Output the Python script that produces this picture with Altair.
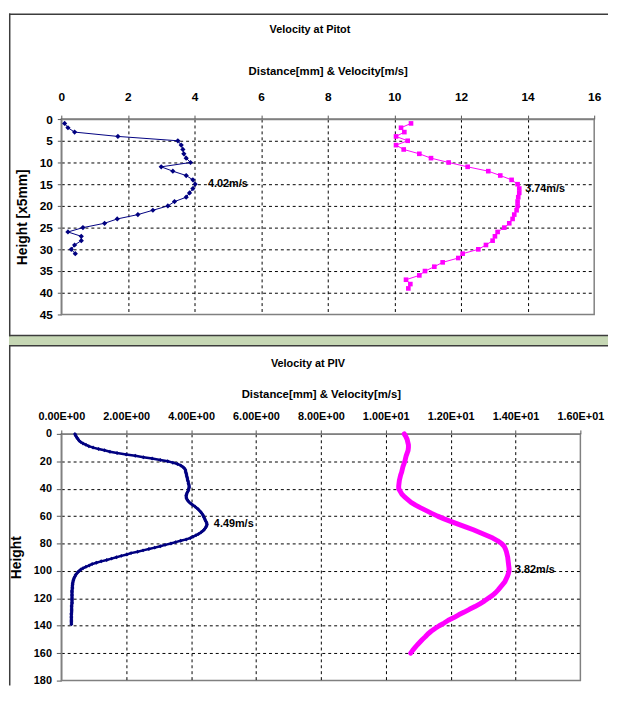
import altair as alt
import pandas as pd

FONT = "Liberation Sans, Arial, Helvetica, sans-serif"
NAVY = "#000080"
PINK = "#FF00FF"
GREEN = "#c6d7b4"
FRAME = "#3c3c3c"

# ---------------- data: Velocity at Pitot ----------------
pitot_dist_height = [1, 2, 3, 4, 5, 6, 7, 8, 9, 10, 11, 12, 13, 14, 15, 16,
                     17, 18, 19, 20, 21, 22, 23, 24, 25, 26, 27, 28, 29, 30, 31]
pitot_dist = [0.1, 0.2, 0.4, 1.7, 3.5, 3.6, 3.65, 3.68, 3.75, 3.88, 3.0, 3.35,
              3.75, 3.95, 4.02, 3.95, 3.85, 3.75, 3.4, 3.2, 2.75, 2.3, 1.68,
              1.3, 0.65, 0.2, 0.6, 0.6, 0.4, 0.3, 0.42]
pitot_vel_height = [1, 2, 3, 4, 5, 6, 7, 8, 9, 10, 11, 12, 13, 14, 15, 16, 17,
                    18, 19, 20, 21, 22, 23, 24, 25, 26, 27, 28, 29, 30, 31, 32,
                    33, 34, 35, 36, 37, 38, 39]
pitot_vel = [10.5, 10.2, 10.3, 10.05, 10.4, 10.05, 10.28, 10.75, 11.1, 11.63,
             12.2, 12.82, 13.18, 13.52, 13.7, 13.75, 13.75, 13.72, 13.7, 13.7,
             13.67, 13.6, 13.55, 13.45, 13.3, 13.1, 13.02, 12.95, 12.75, 12.52,
             12.05, 11.92, 11.45, 11.2, 10.92, 10.75, 10.35, 10.48, 10.42]
pitot_label_x = [4.02, 13.75]
pitot_label_y = [15, 16]
pitot_label_text = ["4.02m/s", "3.74m/s"]

# ---------------- data: Velocity at PIV ----------------
piv_dist_height = list(range(0, 140))
piv_dist = [0.42, 0.44, 0.46, 0.49, 0.52, 0.55, 0.60, 0.67, 0.76, 0.85,
            0.98, 1.15, 1.33, 1.50, 1.72, 2.00, 2.28, 2.53, 2.80, 3.05,
            3.28, 3.44, 3.58, 3.68, 3.74, 3.79, 3.82, 3.83, 3.84, 3.85,
            3.86, 3.87, 3.88, 3.89, 3.90, 3.91, 3.92, 3.93, 3.94, 3.94,
            3.93, 3.92, 3.90, 3.88, 3.86, 3.85, 3.85, 3.86, 3.88, 3.91,
            3.95, 4.00, 4.06, 4.12, 4.17, 4.22, 4.26, 4.30, 4.33, 4.36,
            4.38, 4.40, 4.42, 4.44, 4.46, 4.48, 4.49, 4.48, 4.46, 4.43,
            4.40, 4.35, 4.30, 4.23, 4.15, 4.06, 3.98, 3.85, 3.68, 3.52,
            3.38, 3.20, 3.05, 2.88, 2.70, 2.52, 2.35, 2.15, 2.02, 1.85,
            1.70, 1.55, 1.40, 1.23, 1.08, 0.95, 0.86, 0.76, 0.67, 0.60,
            0.55, 0.51, 0.47, 0.44, 0.42, 0.40, 0.38, 0.37, 0.36, 0.35,
            0.35, 0.34, 0.34, 0.34, 0.33, 0.33, 0.33, 0.33, 0.33, 0.33,
            0.33, 0.33, 0.33, 0.33, 0.33, 0.32, 0.32, 0.32, 0.32, 0.32,
            0.32, 0.31, 0.31, 0.31, 0.31, 0.31, 0.31, 0.31, 0.31, 0.31]
piv_vel_height = list(range(0, 161, 2))
piv_vel = [10.57, 10.62, 10.66, 10.68, 10.70, 10.70, 10.69, 10.66, 10.63, 10.61,
           10.59, 10.56, 10.53, 10.51, 10.49, 10.46, 10.44, 10.42, 10.41, 10.40,
           10.40, 10.45, 10.50, 10.58, 10.68, 10.78, 10.92, 11.08, 11.25, 11.42,
           11.60, 11.80, 12.02, 12.25, 12.48, 12.70, 12.90, 13.10, 13.30, 13.45,
           13.57, 13.65, 13.69, 13.72, 13.74, 13.76, 13.77, 13.78, 13.79, 13.80,
           13.80, 13.78, 13.75, 13.71, 13.67, 13.60, 13.53, 13.46, 13.38, 13.28,
           13.16, 13.04, 12.90, 12.75, 12.58, 12.42, 12.25, 12.10, 11.93, 11.80,
           11.65, 11.52, 11.40, 11.30, 11.22, 11.13, 11.05, 10.97, 10.90, 10.83,
           10.77]
piv_label_x = [4.49, 13.8]
piv_label_y = [66, 99]
piv_label_text = ["4.49m/s", "3.82m/s"]

# tick values
top_x_ticks = [0, 2, 4, 6, 8, 10, 12, 14, 16]
top_y_ticks = [0, 5, 10, 15, 20, 25, 30, 35, 40, 45]
bot_x_ticks = [0, 2, 4, 6, 8, 10, 12, 14, 16]
bot_y_ticks = [0, 20, 40, 60, 80, 100, 120, 140, 160, 180]

# ---------------- layout ----------------
L = 53
TW, TH = 540, 198
BW, BH = 526, 250
GAP = 121
RIGHT = 607

one = pd.DataFrame({"k": [0]})


def grid_opacity(lo, hi):
    return {"condition": {"test": f"datum.value == {lo} || datum.value == {hi}", "value": 0},
            "value": 1}


common_axis = dict(
    labelFont=FONT, labelFontWeight="bold", labelColor="black", labelFontSize=11,
    labelOverlap=False, labelFlush=False, tickCount=40,
    titleFont=FONT, titleFontWeight="bold", titleColor="black", titleFontSize=11,
    domainColor="#808080", domainWidth=1.5, tickColor="#555555", tickWidth=1,
    grid=True, gridColor="black", gridDash=[3, 3], gridWidth=1,
)


def title_mark(text, x, y):
    return alt.Chart(one).mark_text(
        text=text, font=FONT, fontSize=11, fontWeight="bold", color="black",
        align="center", baseline="alphabetic",
    ).encode(x=alt.value(x), y=alt.value(y))


def bar(x1, x2, y1, y2, color):
    # frame pieces drawn as filled rectangles (no stroke)
    return alt.Chart(one).mark_rect(color=color, strokeWidth=0).encode(
        x=alt.value(x1), x2=alt.value(x2), y=alt.value(y1), y2=alt.value(y2))


def panel(dist_h, dist_v, vel_h, vel_v, lab_x, lab_y, lab_t, xdom, ydom,
          xticks, yticks, xaxis_extra, yaxis_extra, w, h, thin, deco):
    xs = alt.Scale(domain=xdom, nice=False, zero=False)
    ys = alt.Scale(domain=ydom, reverse=True, nice=False, zero=False)
    xkw = {**common_axis, **xaxis_extra}
    ykw = {**common_axis, **yaxis_extra}
    xa = alt.Axis(orient="top", values=xticks, title="Distance[mm] & Velocity[m/s]",
                  gridOpacity=grid_opacity(xdom[0], xdom[1]), **xkw)
    ya = alt.Axis(orient="left", values=yticks, format="d",
                  gridOpacity=grid_opacity(ydom[0], ydom[1]), **ykw)

    d1 = pd.DataFrame({"h": dist_h, "v": dist_v})
    d2 = pd.DataFrame({"h": vel_h, "v": vel_v})
    dl = pd.DataFrame({"x": lab_x, "y": lab_y, "t": lab_t})

    enc = dict(x=alt.X("v:Q", scale=xs, axis=xa), y=alt.Y("h:Q", scale=ys, axis=ya),
               order="h:Q")
    enc2 = dict(x=alt.X("v:Q", scale=xs), y=alt.Y("h:Q", scale=ys), order="h:Q")

    layers = list(deco)
    if thin:
        layers += [
            alt.Chart(d1).mark_line(color=NAVY, strokeWidth=1).encode(**enc),
            alt.Chart(d1).mark_point(shape="diamond", filled=True, color=NAVY,
                                     size=28, opacity=1).encode(**enc2),
            alt.Chart(d2).mark_line(color=PINK, strokeWidth=1).encode(**enc2),
            alt.Chart(d2).mark_point(shape="square", filled=True, color=PINK,
                                     size=22, opacity=1).encode(**enc2),
        ]
        dxs = [13, 6]
    else:
        layers += [
            alt.Chart(d2).mark_line(color=PINK, strokeWidth=5, strokeCap="round",
                                    strokeJoin="round").encode(**enc),
            alt.Chart(d1).mark_line(color=NAVY, strokeWidth=2.5).encode(**enc2),
            alt.Chart(d1).mark_point(shape="diamond", filled=True, color=NAVY,
                                     size=16, opacity=1).encode(**enc2),
        ]
        dxs = [7, 6]
    for i in range(len(lab_t)):
        layers.append(
            alt.Chart(dl.iloc[[i]]).mark_text(align="left", baseline="middle", dx=dxs[i],
                                              font=FONT, fontSize=11, fontWeight="bold",
                                              color="black")
            .encode(x=alt.X("x:Q", scale=xs), y=alt.Y("y:Q", scale=ys), text="t:N"))
    return alt.layer(*layers).properties(width=w, height=h)


# decorations of the chart frame (panel borders, green gap, panel titles)
top_deco = [
    bar(-L, RIGHT - L, TH + 21, TH + 32, GREEN),
    bar(-L, RIGHT - L, TH + 20.5, TH + 22, FRAME),
    bar(-L, RIGHT - L, TH + 31, TH + 32.5, FRAME),
    bar(-L, RIGHT - L, -107, -105.5, FRAME),
    bar(-L, -L + 1.5, -107, TH + 22, FRAME),
    title_mark("Velocity at Pitot", 252, -87),
]
bot_deco = [
    bar(-L, -L + 1.5, -89, BH + 5, FRAME),
    title_mark("Velocity at PIV", 250, -68),
]

top = panel(pitot_dist_height, pitot_dist, pitot_vel_height, pitot_vel,
            pitot_label_x, pitot_label_y, pitot_label_text,
            [0, 16], [0, 45], top_x_ticks, top_y_ticks,
            dict(labelFontSize=12, titleFontSize=11.5, tickSize=4, labelPadding=12,
                 titlePadding=14, format="d"),
            dict(labelFontSize=12, tickSize=4, labelPadding=5, title="Height [x5mm]",
                 titleFontSize=14, titlePadding=10),
            TW, TH, True, top_deco)

bottom = panel(piv_dist_height, piv_dist, piv_vel_height, piv_vel,
               piv_label_x, piv_label_y, piv_label_text,
               [0, 16], [0, 180], bot_x_ticks, bot_y_ticks,
               dict(tickSize=4, labelPadding=9, titleFontSize=11.5, titlePadding=11,
                    labelExpr="datum.value >= 10 ? format(datum.value / 10, '.2f') + 'E+01' : format(datum.value, '.2f') + 'E+00'"),
               dict(labelFontSize=11, tickSize=5, labelPadding=5, title="Height",
                    titleFontSize=14, titlePadding=10),
               BW, BH, False, bot_deco)

chart = (
    alt.vconcat(top, bottom, spacing=GAP, bounds="flush")
    .properties(padding=0)
    .configure_view(stroke="#808080", strokeWidth=1.5)
)

chart.save("out.html", embed_options={"renderer": "svg", "actions": False})
